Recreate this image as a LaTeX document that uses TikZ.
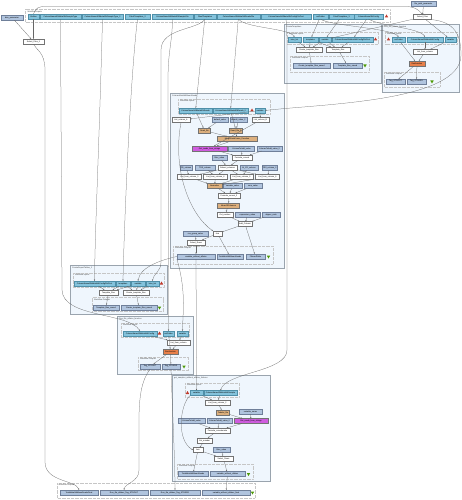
\documentclass[tikz,border=0pt]{standalone}
\usepackage{fontspec}
\setmainfont{Liberation Sans}
\usetikzlibrary{shapes.geometric,arrows.meta}

\definecolor{inpblue}{HTML}{84C3DC}
\definecolor{inpedge}{HTML}{4F8FA8}
\definecolor{prmblue}{HTML}{B0C4DE}
\definecolor{prmedge}{HTML}{6F7F99}
\definecolor{subfill}{HTML}{EFF6FD}
\definecolor{subedge}{HTML}{9AA4AE}
\definecolor{readfill}{HTML}{DDB07E}
\definecolor{runfill}{HTML}{E8804A}
\definecolor{strfill}{HTML}{CF5CDF}
\definecolor{markred}{HTML}{C0392B}
\definecolor{markgreen}{HTML}{4E9A06}

\tikzset{
  base/.style={rectangle, draw=black!55, line width=0.2pt, inner sep=0pt, minimum height=5pt, font=\fontsize{2}{2.4}\selectfont},
  inp/.style={base, fill=inpblue, draw=inpedge},
  prm/.style={base, fill=prmblue, draw=prmedge},
  tool/.style={base, fill=white},
  readbox/.style={base, fill=readfill},
  runbox/.style={base, fill=runfill},
  strbox/.style={base, fill=strfill},
  subwf/.style={draw=subedge, fill=subfill, line width=0.4pt},
  ioframe/.style={draw=gray!45, line width=0.2pt, dash pattern=on 0.5pt off 0.8pt},
  boxlbl/.style={anchor=north west, inner sep=0pt, font=\fontsize{2}{2.4}\selectfont, text=black!75},
  flow/.style={-{Stealth[length=1.5pt,width=1.2pt]}, line width=0.25pt, draw=black!60},
  inmark/.style={regular polygon, regular polygon sides=3, fill=markred, minimum size=4pt, inner sep=0pt},
  outmark/.style={regular polygon, regular polygon sides=3, shape border rotate=180, fill=markgreen, minimum size=4pt, inner sep=0pt}
}

\begin{document}
\begin{tikzpicture}[x=1pt, y=-1pt]
  \fill[white] (0,0) rectangle (462,500);
  \useasboundingbox (0,0) rectangle (462,500);

  % subworkflow boxes
  \draw[subwf] (284,24) rectangle (381,83);
  \draw[subwf] (382,24) rectangle (459,92);
  \draw[subwf] (170,93) rectangle (284,268);
  \draw[subwf] (70,265) rectangle (167,314);
  \draw[subwf] (117,316) rectangle (193,374);
  \draw[subwf] (172,375) rectangle (270,481);

  % input / output frames
  \draw[ioframe] (25,9.5) rectangle (390,22);
  \draw[ioframe] (287,32) rectangle (378,44.5);
  \draw[ioframe] (290,56) rectangle (369,72);
  \draw[ioframe] (385,32) rectangle (457,44.5);
  \draw[ioframe] (384,72) rectangle (440,87);
  \draw[ioframe] (178,99) rectangle (270,114);
  \draw[ioframe] (173,246) rectangle (273,264);
  \draw[ioframe] (73,273) rectangle (164,287.5);
  \draw[ioframe] (92,297.5) rectangle (163,311.5);
  \draw[ioframe] (121,323) rectangle (189,337.5);
  \draw[ioframe] (138,357) rectangle (188,370.5);
  \draw[ioframe] (185,383) rectangle (239,397);
  \draw[ioframe] (177,464) rectangle (253,479);
  \draw[ioframe] (57,483) rectangle (255,498);

  \node[boxlbl] (lblTop) at (27.5,10.5) {Workflow Inputs};
  \node[boxlbl] (lblA) at (286,25.5) {CreateTemplates};
  \node[boxlbl] (lblAin) at (289,33) {Workflow Inputs};
  \node[boxlbl] (lblAout) at (292,57) {Workflow Outputs};
  \node[boxlbl] (lblB) at (384,25.5) {Run\_file\_where\_function};
  \node[boxlbl] (lblBin) at (387,33) {Workflow Inputs};
  \node[boxlbl] (lblBout) at (386,73) {Workflow Outputs};
  \node[boxlbl] (lblC) at (172,94.5) {ColumnMetaNNMeanReads};
  \node[boxlbl] (lblCin) at (180,100) {Workflow Inputs};
  \node[boxlbl] (lblCout) at (175,247) {Workflow Outputs};
  \node[boxlbl] (lblD) at (72,266.5) {CreateReportTables\_2};
  \node[boxlbl] (lblDin) at (75,274) {Workflow Inputs};
  \node[boxlbl] (lblDout) at (94,298.5) {Workflow Outputs};
  \node[boxlbl] (lblE) at (119,317.5) {Run\_file\_aflatox\_function};
  \node[boxlbl] (lblEin) at (123,324) {Workflow Inputs};
  \node[boxlbl] (lblEout) at (140,358) {Workflow Outputs};
  \node[boxlbl] (lblF) at (174,376.5) {get\_samples\_without\_aflatox\_failures};
  \node[boxlbl] (lblFin) at (187,384) {Workflow Inputs};
  \node[boxlbl] (lblFout) at (179,465) {Workflow Outputs};
  \node[boxlbl] (lblG) at (58.5,484) {Workflow Outputs};

  % top level inputs
  \node[prm, minimum width=25pt] (filepath) at (423.5,4) {file\_path\_parameter};
  \node[prm, minimum width=22pt] (binsprm) at (12,17.5) {bins\_parameter};
  \node[inp, minimum width=11pt] (in1) at (33.5,16.5) {Outline};
  \node[inp, minimum width=41pt] (in2) at (60.5,16.5) {ColumnNameNNMetaNNSampleType};
  \node[inp, minimum width=41pt] (in3) at (102.5,16.5) {ColumnNameNNMetaNNSampleType\_2};
  \node[inp, minimum width=25pt] (in4) at (137.5,16.5) {FileofTemplates\_2};
  \node[inp, minimum width=41pt] (in5) at (172.5,16.5) {ColumnNameNNMetaNNSampleFile};
  \node[inp, minimum width=22pt] (in6) at (205,16.5) {FileofTemplates};
  \node[inp, minimum width=43pt] (in7) at (238.5,16.5) {ColumnNameNNMetaNNReadsFile};
  \node[inp, minimum width=50pt] (in8) at (286,16.5) {ColumnNameNNMetaNNConfigFileText};
  \node[inp, minimum width=15pt] (in9) at (320.5,16.5) {outFolder};
  \node[inp, minimum width=25pt] (in10) at (341.5,16.5) {FileofTemplates\_3};
  \node[inp, minimum width=29pt] (in11) at (368.5,16.5) {ColumnNameNNConfig};
  \node[inmark] (topmark) at (386.5,16.5) {};
  \node[tool, minimum width=18pt] (selfiles) at (422.5,17) {Select\_Files};
  \node[tool, minimum width=21pt] (selfiles2) at (33.5,41.5) {Select\_Files\_2};

  % CreateTemplates
  \node[inp, minimum width=13pt] (bins) at (294.5,39.5) {bins\_list};
  \node[inp, minimum width=15pt] (tmpl) at (310.5,39.5) {templates};
  \node[inp, minimum width=12pt] (varA) at (325,39.5) {variable};
  \node[inp, minimum width=41pt] (cfgA) at (352.5,39.5) {ColumnNameNNMetaNNConfigFileText};
  \node[inmark] (markA) at (375.5,39.5) {};
  \node[tool, minimum width=26pt] (crtA) at (309,49.5) {Create\_template\_files};
  \node[tool, minimum width=24pt] (tplA) at (338,49.5) {Template\_files};
  \node[prm, minimum width=37pt] (crtAout) at (311.5,65.5) {Create\_template\_files\_saved};
  \node[prm, minimum width=29pt] (tplAout) at (347.5,65.5) {Template\_files\_saved};
  \node[outmark] (omarkA) at (365,65.5) {};

  % Run_file_where_function
  \node[inmark] (markB) at (388.5,39.5) {};
  \node[inp, minimum width=13pt] (outB) at (398.5,39.5) {outFolder};
  \node[inp, minimum width=36pt] (cfgB) at (425,39.5) {ColumnNameNNMetaNNConfig};
  \node[inp, minimum width=11pt] (varB) at (450.5,39.5) {variable};
  \node[tool, minimum width=24pt] (listB) at (425,52) {List\_from\_column};
  \node[runbox, minimum width=16pt] (runB) at (417,63.5) {Runfunction};
  \node[prm, minimum width=19pt] (stdoutB) at (395.5,81.5) {Tag\_STDOUT};
  \node[prm, minimum width=19pt] (stderrB) at (416.5,81.5) {Tag\_STDERR};
  \node[outmark] (omarkB) at (432,81.5) {};

  % ColumnMetaNNMeanReads
  \node[inp, minimum width=33pt] (readsC) at (195.5,110.5) {ColumnNameNNMetaNNReads};
  \node[inp, minimum width=35pt] (reads2C) at (230.5,110.5) {ColumnNameNNMetaNNReads\_2};
  \node[inmark] (markC) at (252,110.5) {};
  \node[inp, minimum width=10pt] (varC) at (260,110.5) {variable};
  \node[tool, minimum width=18pt] (listC1) at (181,120) {List\_column\_A};
  \node[prm, minimum width=16pt] (defC1) at (220,120) {default\_value};
  \node[prm, minimum width=17pt] (defC2) at (238.5,120) {default\_value\_2};
  \node[tool, minimum width=17pt] (listC2) at (260.5,120) {List\_column\_B};
  \node[readbox, minimum width=12pt] (readC1) at (204.5,130.5) {Read\_file};
  \node[readbox, minimum width=13pt] (readC2) at (236,130.5) {Read\_file\_2};
  \node[readbox, minimum width=40pt] (mergeC) at (237,139) {MergeDataFrame\_Function};
  \node[strbox, minimum width=35pt] (strC) at (209.5,148.5) {Get\_reads\_from\_strings};
  \node[prm, minimum width=26pt] (addC1) at (241.5,148.5) {ColumnToAdd\_value};
  \node[prm, minimum width=25pt] (addC2) at (269.5,148.5) {ColumnToAdd\_value\_2};
  \node[prm, minimum width=15pt] (filtC) at (219.5,157.5) {filter\_value};
  \node[tool, minimum width=20pt] (formC) at (242,157.5) {Formula\_concat};
  \node[prm, minimum width=12pt] (crC) at (186,167.5) {CR\_column};
  \node[prm, minimum width=20pt] (trsC) at (205,167.5) {TRS\_column};
  \node[tool, minimum width=19pt] (subC) at (227.5,167.5) {Subset\_columns};
  \node[prm, minimum width=18pt] (mcrC) at (249,167.5) {M\_CR\_column};
  \node[prm, minimum width=15pt] (trs2C) at (269.5,167.5) {TRS\_column\_2};
  \node[tool, minimum width=24pt] (lc3) at (189.5,177) {List\_from\_column\_3};
  \node[tool, minimum width=24pt] (lc4) at (215.5,177) {List\_from\_column\_4};
  \node[tool, minimum width=23pt] (lc5) at (241.5,177) {List\_from\_column\_5};
  \node[tool, minimum width=24pt] (lc6) at (267.5,177) {List\_from\_column\_6};
  \node[readbox, minimum width=15pt] (normC) at (214.5,186) {Normalise};
  \node[prm, minimum width=19pt] (vvalC) at (232.5,186) {variable\_value};
  \node[prm, minimum width=18pt] (sumC) at (253,186) {sum\_value};
  \node[tool, minimum width=22pt] (form2C) at (229,195.5) {Formula\_concat\_2};
  \node[readbox, minimum width=22pt] (meanC) at (228.5,205.5) {MeanOfColumns};
  \node[tool, minimum width=16pt] (cutC) at (225,214.5) {Cut\_number};
  \node[prm, minimum width=25pt] (exprC) at (247.5,214.5) {expression\_value};
  \node[prm, minimum width=18pt] (rankC) at (271,214.5) {aligner\_rank};
  \node[tool, minimum width=14pt] (addcolC) at (245,224) {Add\_Column};
  \node[prm, minimum width=25pt] (grpC) at (195.5,233.5) {run\_group\_value};
  \node[tool, minimum width=9pt] (joinC) at (217.5,233.5) {Join};
  \node[tool, minimum width=18pt] (selrC) at (196,242.5) {Select\_Rows};
  \node[prm, minimum width=38pt] (woutC1) at (196,256.5) {variable\_without\_aflatox};
  \node[prm, minimum width=26pt] (woutC2) at (230,256.5) {TotalMetaNNMeanReads};
  \node[prm, minimum width=19pt] (woutC3) at (255.5,256.5) {FilteredTable};
  \node[outmark] (omarkC) at (268.5,256.5) {};

  % CreateReportTables_2
  \node[inp, minimum width=41pt] (cfgD) at (94.5,283.5) {ColumnNameNNMetaNNConfigFileText};
  \node[inp, minimum width=14pt] (tmplD) at (123,283.5) {templates};
  \node[inp, minimum width=14pt] (varD) at (138,283.5) {variable};
  \node[inp, minimum width=13pt] (binsD) at (152.5,283.5) {bins\_list};
  \node[inmark] (markD) at (161.5,283.5) {};
  \node[tool, minimum width=19pt] (tplD) at (108.5,292.5) {Template\_files};
  \node[tool, minimum width=26pt] (crtD) at (136,292.5) {Create\_template\_files};
  \node[prm, minimum width=26pt] (tplDout) at (106,307.5) {Template\_files\_saved};
  \node[prm, minimum width=36pt] (crtDout) at (139,307.5) {Create\_template\_files\_saved};
  \node[outmark] (omarkD) at (159.5,307.5) {};

  % Run_file_aflatox_function
  \node[inp, minimum width=34pt] (cfgE) at (140,333.5) {ColumnNameNNMetaNNConfig};
  \node[inmark] (markE) at (159.5,333.5) {};
  \node[inp, minimum width=11pt] (outE) at (168.5,333.5) {outFolder};
  \node[inp, minimum width=11pt] (varE) at (182.5,333.5) {variable};
  \node[tool, minimum width=23pt] (listE) at (178.5,342.5) {List\_from\_column};
  \node[runbox, minimum width=15pt] (runE) at (170.5,351.5) {Runfunction};
  \node[prm, minimum width=20pt] (stdoutE) at (150,366.5) {Tag\_STDOUT};
  \node[prm, minimum width=18pt] (stderrE) at (171,366.5) {Tag\_STDERR};
  \node[outmark] (omarkE) at (184,366.5) {};

  % get_samples_without_aflatox_failures
  \node[inmark] (markF) at (187.5,393) {};
  \node[inp, minimum width=13pt] (varF) at (196.5,393) {variable};
  \node[inp, minimum width=33pt] (cfgF) at (220.5,393) {ColumnNameNNMetaNNSample};
  \node[tool, minimum width=25pt] (listF) at (217.5,402.5) {List\_from\_column\_2};
  \node[readbox, minimum width=13pt] (tabF) at (223,412.5) {Tabular\_file};
  \node[prm, minimum width=23pt] (vnameF) at (250.5,411.5) {variable\_name};
  \node[prm, minimum width=27pt] (add1F) at (191.5,421) {ColumnToAdd\_value};
  \node[prm, minimum width=25pt] (add2F) at (219.5,421) {ColumnToAdd\_value\_2};
  \node[strbox, minimum width=34pt] (strF) at (251,421) {Get\_reads\_from\_strings};
  \node[tool, minimum width=25pt] (formF) at (217.5,430.5) {Formula\_concatenate};
  \node[tool, minimum width=15pt] (cutF) at (204.5,440.5) {Cut\_number};
  \node[tool, minimum width=10pt] (joinF) at (198,450) {Join};
  \node[prm, minimum width=17pt] (filtF) at (221.5,449.5) {filter\_value};
  \node[tool, minimum width=19pt] (selrF) at (223.5,458.5) {Select\_Rows};
  \node[prm, minimum width=30pt] (woutF1) at (193,474) {TotalMetaNNMeanReads};
  \node[prm, minimum width=35pt] (woutF2) at (227.5,474) {variable\_without\_aflatox};
  \node[outmark] (omarkF) at (248.5,474) {};

  % final outputs
  \node[prm, minimum width=38pt] (finOut1) at (79,492.5) {TotalMetaNNMeanReadsFinal};
  \node[prm, minimum width=48pt] (finOut2) at (124,492.5) {Run\_file\_aflatox\_Tag\_STDOUT};
  \node[prm, minimum width=50pt] (finOut3) at (175,492.5) {Run\_file\_aflatox\_Tag\_STDERR};
  \node[prm, minimum width=48pt] (finOut4) at (226,492.5) {variable\_without\_aflatox\_final};
  \node[outmark] (omarkG) at (252.5,492.5) {};

  % top level connectors
  \draw[flow] (binsprm) -- (selfiles2);
  \draw[flow] (in1) -- (selfiles2);
  \draw[flow] (filepath) -- (selfiles);
  \draw[flow] (in1.north) .. controls (36,8) and (38,6.5) .. (46,6.5) -- (405,6.5) .. controls (414,6.5) and (418,9) .. (selfiles.north);
  \draw[flow] (selfiles) -- (varA);
  \draw[flow] (selfiles) -- (varB);
  \draw[flow] (selfiles.south east) .. controls (455,22) and (461,35) .. (461,55) .. controls (461,102) and (320,104) .. (varC.east);
  \draw[flow] (in7.south) .. controls (245,28) and (288,28) .. (bins.north);
  \draw[flow] (in9) -- (tmpl);
  \draw[flow] (in10) -- (varA);
  \draw[flow] (in11) -- (cfgA);
  \draw[flow] (in9.south) .. controls (330,26) and (392,28) .. (outB.north);
  \draw[flow] (in11.south) .. controls (380,26) and (420,28) .. (cfgB.north);
  \draw[flow] (in6) -- (readsC);
  \draw[flow] (in7) -- (reads2C);
  \draw[flow] (in6.south) .. controls (198,30) and (161,28) .. (161,50) -- (161,262) .. controls (161,272) and (153,274) .. (binsD.north);
  \draw[flow] (in3.south) .. controls (99,150) and (95,230) .. (cfgD.north);
  \draw[flow] (in4.south) .. controls (130,80) and (124,230) .. (tmplD.north);
  \draw[flow] (in2.south) -- (62,290) .. controls (63,318) and (128,312) .. (cfgE.north);
  \draw[flow] (in5.south) .. controls (172,45) and (168,50) .. (168,80) -- (outE.north);
  \draw[flow] (in8.south) .. controls (287,30) and (287,40) .. (287,60) -- (287,350) .. controls (287,372) and (226,372) .. (cfgF.north);

  % CreateTemplates
  \draw[flow] (bins) -- (crtA);
  \draw[flow] (tmpl) -- (crtA);
  \draw[flow] (varA) -- (crtA);
  \draw[flow] (tmpl) -- (tplA);
  \draw[flow] (varA) -- (tplA);
  \draw[flow] (cfgA) -- (tplA);
  \draw[flow] (crtA) -- (crtAout);
  \draw[flow] (tplA) -- (tplAout);

  % Run_file_where_function
  \draw[flow] (cfgB) -- (listB);
  \draw[flow] (varB) -- (listB);
  \draw[flow] (outB) -- (runB);
  \draw[flow] (listB) -- (runB);
  \draw[flow] (runB) -- (stdoutB);
  \draw[flow] (runB) -- (stderrB);

  % ColumnMetaNNMeanReads
  \draw[flow] (readsC) -- (readC1);
  \draw[flow] (defC1) -- (readC1);
  \draw[flow] (reads2C) -- (readC2);
  \draw[flow] (defC2) -- (readC2);
  \draw[flow] (varC) -- (listC1);
  \draw[flow] (varC) -- (listC2);
  \draw[flow] (readC1) -- (mergeC);
  \draw[flow] (readC2) -- (mergeC);
  \draw[flow] (mergeC) -- (strC);
  \draw[flow] (listC2) -- (strC);
  \draw[flow] (strC) -- (formC);
  \draw[flow] (addC1) -- (formC);
  \draw[flow] (addC2) -- (formC);
  \draw[flow] (filtC) -- (subC);
  \draw[flow] (formC) -- (subC);
  \draw[flow] (subC) -- (lc3);
  \draw[flow] (subC) -- (lc4);
  \draw[flow] (subC) -- (lc5);
  \draw[flow] (subC) -- (lc6);
  \draw[flow] (crC) -- (lc3);
  \draw[flow] (trsC) -- (lc4);
  \draw[flow] (mcrC) -- (lc5);
  \draw[flow] (trs2C) -- (lc6);
  \draw[flow] (lc3) -- (normC);
  \draw[flow] (lc4) -- (normC);
  \draw[flow] (lc5) -- (normC);
  \draw[flow] (lc6) -- (normC);
  \draw[flow] (normC) -- (form2C);
  \draw[flow] (vvalC) -- (form2C);
  \draw[flow] (sumC) -- (form2C);
  \draw[flow] (form2C) -- (meanC);
  \draw[flow] (meanC) -- (cutC);
  \draw[flow] (cutC) -- (addcolC);
  \draw[flow] (exprC) -- (addcolC);
  \draw[flow] (rankC) -- (addcolC);
  \draw[flow] (addcolC) -- (joinC);
  \draw[flow] (listC1.south) .. controls (172,170) and (190,215) .. (joinC.north west);
  \draw[flow] (grpC) -- (selrC);
  \draw[flow] (joinC) -- (selrC);
  \draw[flow] (selrC) -- (woutC1);
  \draw[flow] (joinC) -- (woutC2);
  \draw[flow] (addcolC) -- (woutC3);

  % CreateReportTables_2
  \draw[flow] (cfgD) -- (tplD);
  \draw[flow] (tmplD) -- (tplD);
  \draw[flow] (varD) -- (tplD);
  \draw[flow] (tmplD) -- (crtD);
  \draw[flow] (varD) -- (crtD);
  \draw[flow] (binsD) -- (crtD);
  \draw[flow] (tplD) -- (tplDout);
  \draw[flow] (crtD) -- (crtDout);

  % Run_file_aflatox_function
  \draw[flow] (cfgE) -- (listE);
  \draw[flow] (varE) -- (listE);
  \draw[flow] (outE) -- (runE);
  \draw[flow] (listE) -- (runE);
  \draw[flow] (runE) -- (stdoutE);
  \draw[flow] (runE) -- (stderrE);

  % get_samples_without_aflatox_failures
  \draw[flow] (cfgF) -- (listF);
  \draw[flow] (varF) -- (listF);
  \draw[flow] (listF) -- (tabF);
  \draw[flow] (tabF) -- (strF);
  \draw[flow] (vnameF) -- (strF);
  \draw[flow] (strF) -- (formF);
  \draw[flow] (add1F) -- (formF);
  \draw[flow] (add2F) -- (formF);
  \draw[flow] (formF) -- (cutF);
  \draw[flow] (cutF) -- (joinF);
  \draw[flow] (varF.south west) .. controls (180,405) and (176,440) .. (joinF.west);
  \draw[flow] (joinF) -- (selrF);
  \draw[flow] (filtF) -- (selrF);
  \draw[flow] (selrF) -- (woutF2);
  \draw[flow] (joinF) -- (woutF1);

  % between subworkflows
  \draw[flow] (woutC1) -- (varF);
  \draw[flow] (woutC1.south west) .. controls (186,290) and (183,310) .. (varE.north);
  \draw[flow] (woutC1.west) .. controls (165,259) and (140,266) .. (varD.north);

  % final outputs
  \draw[flow] (selfiles2.south) .. controls (36,50) and (45,52) .. (45,70) -- (45,462) .. controls (45,482) and (76,480) .. (finOut1.north);
  \draw[flow] (stdoutE.south) .. controls (142,380) and (139,395) .. (139,420) -- (139,470) .. controls (139,482) and (125,483) .. (finOut2.north);
  \draw[flow] (stderrE.south) .. controls (172,400) and (175,460) .. (finOut3.north);
  \draw[flow] (woutF2) -- (finOut4);
\end{tikzpicture}
\end{document}
